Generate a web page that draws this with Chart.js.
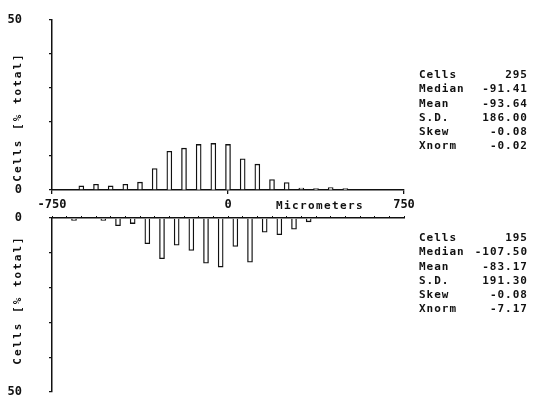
<!DOCTYPE html>
<html>
<head>
<meta charset="utf-8">
<script src="https://cdn.jsdelivr.net/npm/chart.js@4/dist/chart.umd.min.js"></script>
<style>
  html, body { margin: 0; padding: 0; background: #fff; }
  #wrap { position: relative; width: 533px; height: 398px; background: #fff; overflow: hidden; }
  canvas { position: absolute; left: 0; }
  .t { position: absolute; font-family: "DejaVu Sans Mono", monospace; font-weight: bold; font-size: 11px; color: #111; white-space: pre; line-height: 1; }
  .ytitle { letter-spacing: 2px; transform: translate(-50%, -50%) rotate(-90deg); }
  .stats { position: absolute; left: 419px; width: 109px; font-family: "DejaVu Sans Mono", monospace; font-weight: bold; font-size: 11px; color: #111; letter-spacing: 1px; }
  .row { position: relative; height: 14.3px; line-height: 14.3px; }
  .row .v { position: absolute; right: 0; top: 0; }
</style>
</head>
<body>
<div id="wrap">
  <canvas id="top" width="533" height="215" style="top:0px"></canvas>
  <canvas id="bot" width="533" height="188" style="top:210px"></canvas>
  <div class="t ytitle" style="left:17px; top:117px;">Cells [% total]</div>
  <div class="t ytitle" style="left:17px; top:300px;">Cells [% total]</div>
  <div class="t" style="left:320px; top:205px; transform: translate(-50%,-50%); letter-spacing:1.4px;">Micrometers</div>
  <div class="stats" id="statsTop" style="top:68px;"></div>
  <div class="stats" id="statsBot" style="top:231px;"></div>
</div>
<script>
// ---- data ----
const topBins = [-625, -562.5, -500, -437.5, -375, -312.5, -250, -187.5, -125, -62.5, 0, 62.5, 125, 187.5, 250, 312.5, 375, 437.5, 500];
const topValues = [1.2, 1.7, 1.2, 1.7, 2.3, 6.3, 11.4, 12.3, 13.4, 13.7, 13.4, 9.2, 7.6, 3.1, 2.2, 0.6, 0.4, 0.7, 0.4];
const botBins = [-656.25, -531.25, -468.75, -406.25, -343.75, -281.25, -218.75, -156.25, -93.75, -31.25, 31.25, 93.75, 156.25, 218.75, 281.25, 343.75];
const botValues = [0.7, 0.7, 2.2, 1.6, 7.4, 11.7, 7.8, 9.3, 13.0, 14.1, 8.2, 12.7, 4.1, 4.8, 3.2, 1.1];
const xTickValues = [-750, 0, 750];
const yLabelValues = [0, 50];
const statLabels = ["Cells", "Median", "Mean", "S.D.", "Skew", "Xnorm"];
const statsTop = ["295", "-91.41", "-93.64", "186.00", "-0.08", "-0.02"];
const statsBot = ["195", "-107.50", "-83.17", "191.30", "-0.08", "-7.17"];

// ---- stats text ----
function fillStats(id, vals) {
  const el = document.getElementById(id);
  statLabels.forEach((l, i) => {
    const r = document.createElement('div');
    r.className = 'row';
    r.innerHTML = '<span>' + l + '</span><span class="v">' + vals[i] + '</span>';
    el.appendChild(r);
  });
}
fillStats('statsTop', statsTop);
fillStats('statsBot', statsBot);

const INK = '#111';
const FONT = { family: '"DejaVu Sans Mono", monospace', weight: 'bold', size: 12 };

function yAxis(reverse) {
  return {
    min: 0, max: 50, reverse: reverse,
    afterBuildTicks: s => { s.ticks = [0, 10, 20, 30, 40, 50].map(v => ({ value: v })); },
    ticks: {
      color: INK, font: FONT, padding: 27,
      callback: v => yLabelValues.includes(v) ? String(v) : ''
    },
    grid: { drawOnChartArea: false, tickLength: 3, color: INK, lineWidth: 1.3 },
    border: { color: INK, width: 1.5 },
    afterFit: s => { s.width = 52; s.paddingTop = 6; s.paddingBottom = 6; }
  };
}

function barDataset(bins, vals) {
  return {
    data: bins.map((x, i) => ({ x: x, y: vals[i] })),
    backgroundColor: '#fff',
    borderColor: INK,
    borderWidth: 1.3,
    barThickness: 5,
    grouped: false
  };
}

const common = {
  responsive: false,
  animation: false,
  devicePixelRatio: 1,
  plugins: { legend: { display: false }, tooltip: { enabled: false } }
};

new Chart(document.getElementById('top'), {
  type: 'bar',
  data: { datasets: [barDataset(topBins, topValues)] },
  options: Object.assign({}, common, {
    layout: { padding: { left: 0, right: 129, top: 20, bottom: 0 } },
    scales: {
      x: {
        type: 'linear', min: -750, max: 750, position: 'bottom', offset: false,
        afterBuildTicks: s => { s.ticks = xTickValues.map(v => ({ value: v })); },
        ticks: { color: INK, font: FONT, padding: 4, maxRotation: 0, autoSkip: false,
                 callback: v => String(v) },
        grid: { drawOnChartArea: false, tickLength: 4, color: INK, lineWidth: 1.3, offset: false },
        border: { color: INK, width: 1.5 },
        afterFit: s => { s.height = 25; }
      },
      y: yAxis(false)
    }
  })
});

new Chart(document.getElementById('bot'), {
  type: 'bar',
  data: { datasets: [barDataset(botBins, botValues)] },
  options: Object.assign({}, common, {
    layout: { padding: { left: 0, right: 129, top: 8, bottom: 6 } },
    scales: {
      x: {
        type: 'linear', min: -750, max: 750, position: 'top', offset: false,
        afterBuildTicks: s => {
          const t = [];
          for (let v = -750; v <= 750; v += 62.5) t.push({ value: v });
          s.ticks = t;
        },
        ticks: { display: false },
        grid: { drawOnChartArea: false, tickLength: 2, color: INK, lineWidth: 1, offset: false },
        border: { color: INK, width: 1.5 },
        afterFit: s => { s.height = 0; }
      },
      y: yAxis(true)
    }
  })
});
</script>
</body>
</html>
